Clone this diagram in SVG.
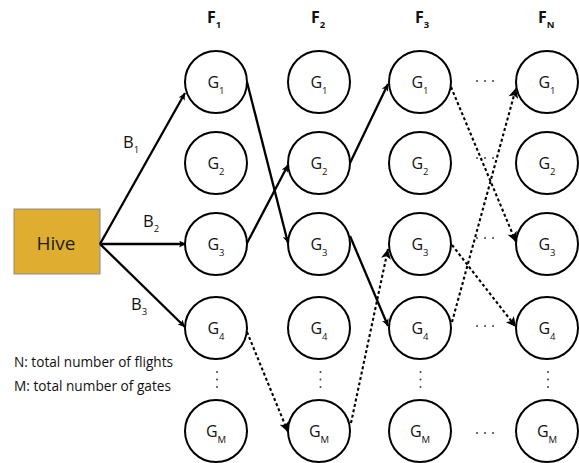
<svg xmlns="http://www.w3.org/2000/svg" width="579" height="463" viewBox="0 0 579 463">
<defs>
<style>
.node{fill:#fff;stroke:#000;stroke-width:2}
.lbl{font-family:"Open Sans","Liberation Sans",sans-serif;font-size:16px;fill:#111;text-anchor:middle}
.sub{font-size:9.5px}
.hdr{font-family:"Open Sans","Liberation Sans",sans-serif;font-size:16px;font-weight:bold;fill:#111}
.blbl{font-family:"Open Sans","Liberation Sans",sans-serif;font-size:16.5px;fill:#111}
.note{font-family:"Open Sans","Liberation Sans",sans-serif;font-size:14px;fill:#111}
.solid{fill:none;stroke:#000;stroke-width:2.3}
.dash{fill:none;stroke:#000;stroke-width:2.1;stroke-dasharray:3 2.5}
.dot{fill:#444}
</style>
<marker id="ah" viewBox="0 0 10 10" refX="10" refY="5" markerWidth="9" markerHeight="7" markerUnits="userSpaceOnUse" orient="auto">
<path d="M0,0 L10,5 L0,10 L2.5,5 Z" fill="#000"/>
</marker>
<marker id="ahd" viewBox="0 0 10 10" refX="10" refY="5" markerWidth="12" markerHeight="10" markerUnits="userSpaceOnUse" orient="auto">
<path d="M0,0 L10,5 L0,10 L2.5,5 Z" fill="#000"/>
</marker>
</defs>
<rect width="579" height="463" fill="#fff"/>

<g id="headers">
<text class="hdr" x="207" y="23">F<tspan class="sub" dy="5">1</tspan></text>
<text class="hdr" x="311" y="23">F<tspan class="sub" dy="5">2</tspan></text>
<text class="hdr" x="415" y="23">F<tspan class="sub" dy="5">3</tspan></text>
<text class="hdr" x="538" y="23">F<tspan class="sub" dy="5">N</tspan></text>
</g>

<g id="hive">
<rect x="14" y="209" width="86" height="65" fill="#DFAD2F" stroke="#8c8c8c" stroke-width="1"/>
<text x="56" y="250" font-family="'Open Sans','Liberation Sans',sans-serif" font-size="19" fill="#222" text-anchor="middle">Hive</text>
</g>

<g id="connectors">
<line class="solid" x1="100" y1="244" x2="185" y2="93" marker-end="url(#ah)"/>
<line class="solid" x1="100" y1="244" x2="186" y2="244" marker-end="url(#ah)"/>
<line class="solid" x1="100" y1="244" x2="185" y2="327" marker-end="url(#ah)"/>
<line class="solid" x1="247" y1="82" x2="288" y2="243" marker-end="url(#ah)"/>
<line class="solid" x1="246" y1="245" x2="288" y2="165" marker-end="url(#ah)"/>
<line class="solid" x1="350" y1="163" x2="388" y2="84" marker-end="url(#ah)"/>
<line class="solid" x1="350" y1="236" x2="388" y2="326" marker-end="url(#ah)"/>
<line class="dash" x1="247" y1="332" x2="288" y2="432" marker-end="url(#ahd)"/>
<line class="dash" x1="351" y1="423" x2="388" y2="249" marker-end="url(#ahd)"/>
<line class="dash" x1="451" y1="87" x2="516" y2="242" marker-end="url(#ahd)"/>
<line class="dash" x1="452" y1="322" x2="516" y2="88" marker-end="url(#ahd)"/>
<line class="dash" x1="452" y1="245" x2="516" y2="327" marker-end="url(#ahd)"/>
</g>

<g id="blabels">
<text class="blbl" x="123" y="148">B<tspan class="sub" dy="5">1</tspan></text>
<text class="blbl" x="143" y="227">B<tspan class="sub" dy="5">2</tspan></text>
<text class="blbl" x="131" y="310">B<tspan class="sub" dy="5">3</tspan></text>
</g>

<g id="F1">
<g id="F1G1"><circle class="node" cx="216" cy="82" r="31"/><text class="lbl" x="216" y="88">G<tspan class="sub" dy="6">1</tspan></text></g>
<g id="F1G2"><circle class="node" cx="216" cy="163" r="31"/><text class="lbl" x="216" y="169">G<tspan class="sub" dy="6">2</tspan></text></g>
<g id="F1G3"><circle class="node" cx="216" cy="244" r="31"/><text class="lbl" x="216" y="250">G<tspan class="sub" dy="6">3</tspan></text></g>
<g id="F1G4"><circle class="node" cx="216" cy="328" r="31"/><text class="lbl" x="216" y="334">G<tspan class="sub" dy="6">4</tspan></text></g>
<g id="F1GM"><circle class="node" cx="216" cy="431" r="31"/><text class="lbl" x="216" y="437">G<tspan class="sub" dy="6">M</tspan></text></g>
</g>
<g id="F2">
<g id="F2G1"><circle class="node" cx="319" cy="82" r="31"/><text class="lbl" x="319" y="88">G<tspan class="sub" dy="6">1</tspan></text></g>
<g id="F2G2"><circle class="node" cx="319" cy="163" r="31"/><text class="lbl" x="319" y="169">G<tspan class="sub" dy="6">2</tspan></text></g>
<g id="F2G3"><circle class="node" cx="319" cy="244" r="31"/><text class="lbl" x="319" y="250">G<tspan class="sub" dy="6">3</tspan></text></g>
<g id="F2G4"><circle class="node" cx="319" cy="328" r="31"/><text class="lbl" x="319" y="334">G<tspan class="sub" dy="6">4</tspan></text></g>
<g id="F2GM"><circle class="node" cx="319" cy="431" r="31"/><text class="lbl" x="319" y="437">G<tspan class="sub" dy="6">M</tspan></text></g>
</g>
<g id="F3">
<g id="F3G1"><circle class="node" cx="420" cy="82" r="31"/><text class="lbl" x="420" y="88">G<tspan class="sub" dy="6">1</tspan></text></g>
<g id="F3G2"><circle class="node" cx="420" cy="163" r="31"/><text class="lbl" x="420" y="169">G<tspan class="sub" dy="6">2</tspan></text></g>
<g id="F3G3"><circle class="node" cx="420" cy="244" r="31"/><text class="lbl" x="420" y="250">G<tspan class="sub" dy="6">3</tspan></text></g>
<g id="F3G4"><circle class="node" cx="420" cy="328" r="31"/><text class="lbl" x="420" y="334">G<tspan class="sub" dy="6">4</tspan></text></g>
<g id="F3GM"><circle class="node" cx="420" cy="431" r="31"/><text class="lbl" x="420" y="437">G<tspan class="sub" dy="6">M</tspan></text></g>
</g>
<g id="FN">
<g id="FNG1"><circle class="node" cx="547" cy="82" r="31"/><text class="lbl" x="547" y="88">G<tspan class="sub" dy="6">1</tspan></text></g>
<g id="FNG2"><circle class="node" cx="547" cy="163" r="31"/><text class="lbl" x="547" y="169">G<tspan class="sub" dy="6">2</tspan></text></g>
<g id="FNG3"><circle class="node" cx="547" cy="244" r="31"/><text class="lbl" x="547" y="250">G<tspan class="sub" dy="6">3</tspan></text></g>
<g id="FNG4"><circle class="node" cx="547" cy="328" r="31"/><text class="lbl" x="547" y="334">G<tspan class="sub" dy="6">4</tspan></text></g>
<g id="FNGM"><circle class="node" cx="547" cy="431" r="31"/><text class="lbl" x="547" y="437">G<tspan class="sub" dy="6">M</tspan></text></g>
</g>

<g id="ellipses">
<circle class="dot" cx="477" cy="81" r="1"/><circle class="dot" cx="485" cy="81" r="1"/><circle class="dot" cx="493" cy="81" r="1"/>
<circle class="dot" cx="477" cy="158" r="1"/><circle class="dot" cx="485" cy="158" r="1"/><circle class="dot" cx="493" cy="158" r="1"/>
<circle class="dot" cx="477" cy="238" r="1"/><circle class="dot" cx="485" cy="238" r="1"/><circle class="dot" cx="493" cy="238" r="1"/>
<circle class="dot" cx="477" cy="326" r="1"/><circle class="dot" cx="485" cy="326" r="1"/><circle class="dot" cx="493" cy="326" r="1"/>
<circle class="dot" cx="477" cy="433" r="1"/><circle class="dot" cx="485" cy="433" r="1"/><circle class="dot" cx="493" cy="433" r="1"/>
<circle class="dot" cx="217" cy="372" r="1"/><circle class="dot" cx="217" cy="379.5" r="1"/><circle class="dot" cx="217" cy="387" r="1"/>
<circle class="dot" cx="320.5" cy="372" r="1"/><circle class="dot" cx="320.5" cy="379.5" r="1"/><circle class="dot" cx="320.5" cy="387" r="1"/>
<circle class="dot" cx="420.5" cy="372" r="1"/><circle class="dot" cx="420.5" cy="379.5" r="1"/><circle class="dot" cx="420.5" cy="387" r="1"/>
<circle class="dot" cx="548" cy="372" r="1"/><circle class="dot" cx="548" cy="379.5" r="1"/><circle class="dot" cx="548" cy="387" r="1"/>
</g>

<g id="notes">
<text class="note" x="14" y="367" textLength="159" lengthAdjust="spacingAndGlyphs">N: total number of flights</text>
<text class="note" x="14" y="391" textLength="157" lengthAdjust="spacingAndGlyphs">M: total number of gates</text>
</g>
</svg>
